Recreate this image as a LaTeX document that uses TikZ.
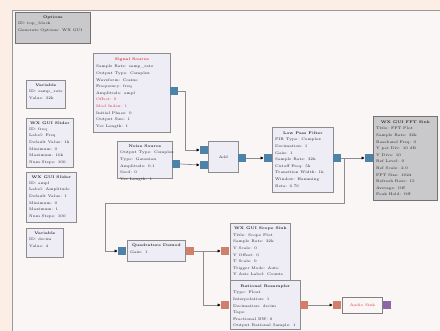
\documentclass[tikz,border=0pt]{standalone}
\usetikzlibrary{arrows.meta}
\definecolor{outerbg}{HTML}{FCEEE4}
\definecolor{canvasbg}{HTML}{FBF6F6}
\definecolor{blkfill}{HTML}{EEEDF6}
\definecolor{blkgray}{HTML}{C9C9CB}
\definecolor{cplx}{HTML}{4F82A8}
\definecolor{flt}{HTML}{D0806A}
\definecolor{purp}{HTML}{8A68A8}
\definecolor{wire}{HTML}{8C8C90}
\definecolor{errred}{HTML}{D83030}
\tikzset{
  blk/.style={draw=black!45, line width=0.8, fill=blkfill, anchor=north west, inner sep=0},
  gblk/.style={blk, fill=blkgray, draw=black!55},
  ttl/.style={font=\bfseries\fontsize{3.8}{5}\selectfont, inner sep=0.5, anchor=north, text=black!85},
  lines/.style={font=\fontsize{3.8}{6.6}\selectfont, align=left, inner sep=0, anchor=north west, text=black!85},
  prt/.style={minimum width=8, minimum height=8, inner sep=0, draw=none},
  bport/.style={prt, fill=cplx},
  oport/.style={prt, fill=flt},
  pport/.style={prt, fill=purp},
  wr/.style={draw=wire, line width=0.7},
  ar/.style={wr, -{Latex[length=3.2,width=3.2,color=black]}},
}
\begin{document}
\begin{tikzpicture}[x=1pt,y=-1pt]
\useasboundingbox (0,0) rectangle (440,331);
\fill[outerbg] (0,0) rectangle (440,331);
\filldraw[fill=canvasbg, draw=black!40, line width=0.8] (12,10) rectangle (450,345);

% Options
\node[gblk, minimum width=75, minimum height=31] (opt) at (15,12) {};
\node[ttl] at ([yshift=-3]opt.north) {Options};
\node[lines] at ([xshift=3,yshift=-10]opt.north west) {ID: top\_block\\Generate Options: WX GUI};

% Variable
\node[blk, minimum width=39, minimum height=28] (var1) at (26,80) {};
\node[ttl] at ([yshift=-3]var1.north) {Variable};
\node[lines] at ([xshift=3,yshift=-10]var1.north west) {ID: samp\_rate\\Value: 32k};

% Sliders
\node[blk, minimum width=47, minimum height=49] (sl1) at (26,118) {};
\node[ttl] at ([yshift=-3]sl1.north) {WX GUI Slider};
\node[lines] at ([xshift=3,yshift=-9.5]sl1.north west) {ID: freq\\Label: Freq\\Default Value: 1k\\Minimum: 0\\Maximum: 16k\\Num Steps: 100};

\node[blk, minimum width=50, minimum height=50] (sl2) at (26,172) {};
\node[ttl] at ([yshift=-3]sl2.north) {WX GUI Slider};
\node[lines] at ([xshift=3,yshift=-9.5]sl2.north west) {ID: ampl\\Label: Amplitude\\Default Value: 1\\Minimum: 0\\Maximum: 1\\Num Steps: 100};

\node[blk, minimum width=37, minimum height=29] (var2) at (26,228) {};
\node[ttl] at ([yshift=-3]var2.north) {Variable};
\node[lines] at ([xshift=3,yshift=-10]var2.north west) {ID: decim\\Value: 4};

% Signal Source
\node[blk, minimum width=77, minimum height=79] (sig) at (93,53) {};
\node[ttl, text=errred] at ([yshift=-4]sig.north) {Signal Source};
\node[lines] at ([xshift=3,yshift=-12]sig.north west) {Sample Rate: samp\_rate\\Output Type: Complex\\Waveform: Cosine\\Frequency: freq\\Amplitude: ampl\\\textcolor{errred}{Offset: 0}\\\textcolor{errred}{Mod Index: 1}\\Initial Phase: 0\\Output Size: 1\\Vec Length: 1};
\node[bport] (sigo) at (174,91) {};

% Noise Source
\node[blk, minimum width=55, minimum height=37] (noi) at (117,141) {};
\node[ttl] at ([yshift=-3]noi.north) {Noise Source};
\node[lines] at ([xshift=3,yshift=-10]noi.north west) {Output Type: Complex\\Type: Gaussian\\Amplitude: 0.1\\Seed: 0\\Vec Length: 1};
\node[bport] (noio) at (176,164) {};

% Add
\node[blk, minimum width=30, minimum height=31] (add) at (208,141) {};
\node[font=\fontsize{3.8}{5}\selectfont, text=black!85] at (add.center) {Add};
\node[bport] (addi1) at (204,150) {};
\node[bport] (addi2) at (204,165) {};
\node[bport] (addo) at (242,158) {};

% Low Pass Filter
\node[blk, minimum width=61, minimum height=65] (lpf) at (272,127) {};
\node[ttl] at ([yshift=-4]lpf.north) {Low Pass Filter};
\node[lines] at ([xshift=3,yshift=-11]lpf.north west) {FIR Type: Complex\\Decimation: 1\\Gain: 1\\Sample Rate: 32k\\Cutoff Freq: 5k\\Transition Width: 1k\\Window: Hamming\\Beta: 6.76};
\node[bport] (lpfi) at (268,158) {};
\node[bport] (lpfo) at (337,158) {};

% FFT Sink
\node[gblk, minimum width=64, minimum height=84] (fft) at (373,116) {};
\node[ttl] at ([yshift=-4]fft.north) {WX GUI FFT Sink};
\node[lines] at ([xshift=3,yshift=-11]fft.north west) {Title: FFT Plot\\Sample Rate: 32k\\Baseband Freq: 0\\Y per Div: 10 dB\\Y Divs: 10\\Ref Level: 0\\Ref Scale: 2.0\\FFT Size: 1024\\Refresh Rate: 15\\Average: Off\\Peak Hold: Off};
\node[bport] (ffti) at (369,158) {};

% Quadrature Demod
\node[blk, minimum width=58, minimum height=21] (qd) at (127,240) {};
\node[ttl] at ([yshift=-3]qd.north) {Quadrature Demod};
\node[lines] at ([xshift=3,yshift=-11]qd.north west) {Gain: 1};
\node[bport] (qdi) at (122,251) {};
\node[oport] (qdo) at (190,251) {};

% Scope Sink
\node[blk, minimum width=60, minimum height=57] (sc) at (230,223) {};
\node[ttl] at ([yshift=-3.5]sc.north) {WX GUI Scope Sink};
\node[lines] at ([xshift=3,yshift=-10.5]sc.north west) {Title: Scope Plot\\Sample Rate: 32k\\V Scale: 0\\V Offset: 0\\T Scale: 0\\Trigger Mode: Auto\\Y Axis Label: Counts};
\node[oport] (sci) at (225,251) {};

% Rational Resampler
\node[blk, minimum width=70, minimum height=49] (rr) at (230,280) {};
\node[ttl] at ([yshift=-4]rr.north) {Rational Resampler};
\node[lines] at ([xshift=3,yshift=-11]rr.north west) {Type: Float\\Interpolation: 1\\Decimation: decim\\Taps: \\Fractional BW: 0\\Output Rational Sample: 1};
\node[oport] (rri) at (225,305) {};
\node[oport] (rro) at (304,305) {};

% Audio Sink
\node[blk, draw=black!50, minimum width=40, minimum height=16, fill=canvasbg] (aud) at (342,297) {};
\node[font=\fontsize{3.8}{5}\selectfont, text=errred] at (aud.center) {Audio Sink};
\node[oport] (audi) at (337,305) {};
\node[pport] (audp) at (387,305) {};

% Connections
\draw[ar] (sigo.east) -- ++(7,0) |- (addi1.west);
\draw[ar] (noio.east) -- (addi2.west);
\draw[ar] (addo.east) -- (lpfi.west);
\draw[ar] (lpfo.east) -- (ffti.west);
\coordinate (bend) at (344,203);
\draw[ar] (lpfo.east) -- (bend |- lpfo.east) -- (bend) -- (105,203) |- (qdi.west);
\coordinate (br) at (203,251);
\draw[ar] (qdo.east) -- (sci.west);
\draw[ar] (br) |- (rri.west);
\draw[ar] (rro.east) -- (audi.west);
\end{tikzpicture}
\end{document}
